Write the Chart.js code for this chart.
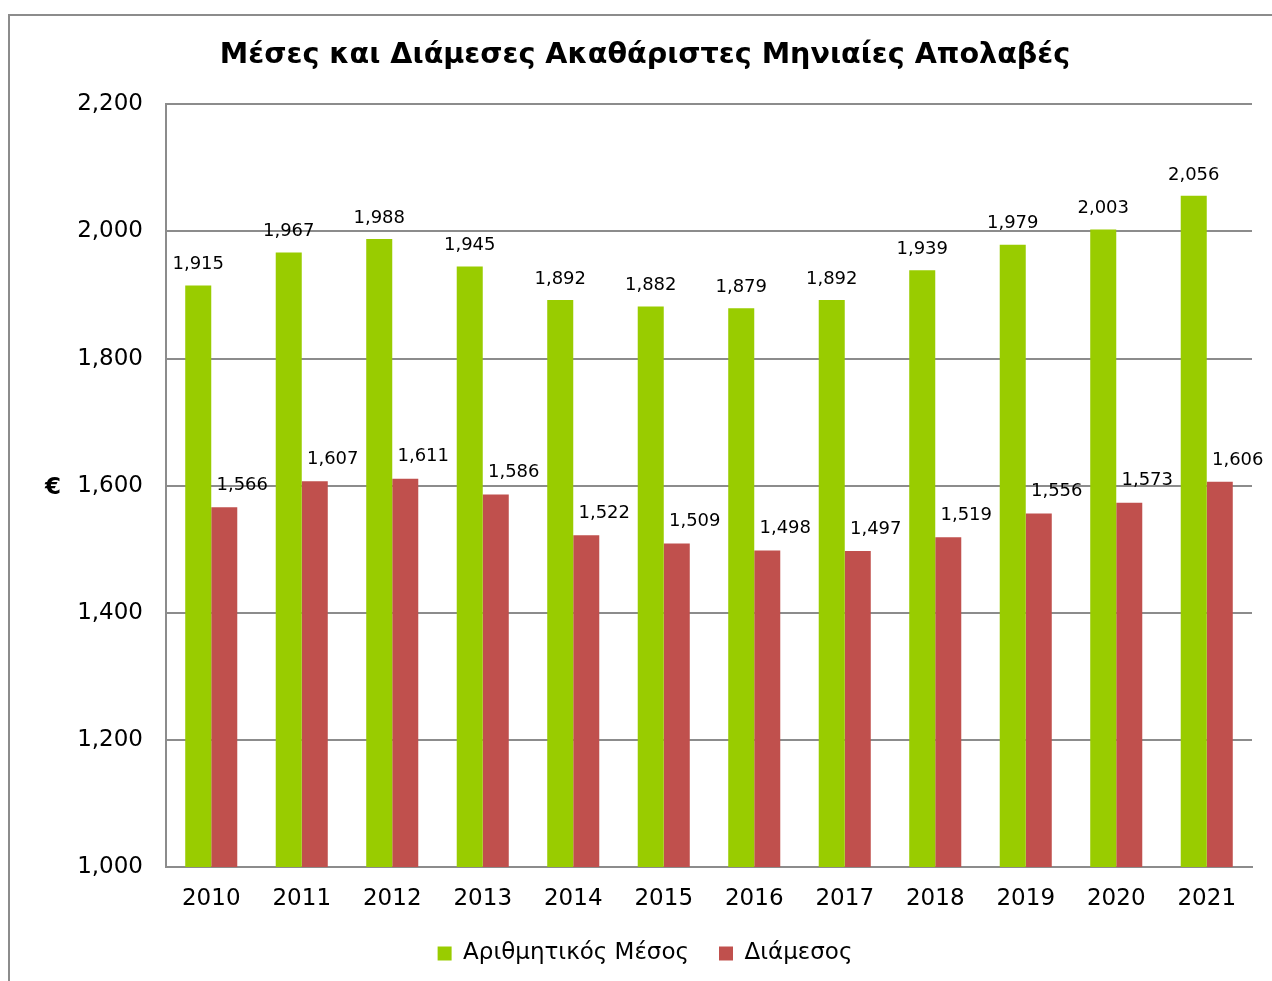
<!DOCTYPE html>
<html>
<head>
<meta charset="utf-8">
<script src="https://cdn.jsdelivr.net/npm/chart.js@4"></script>
<style>
  html, body { margin: 0; padding: 0; background: #fff; overflow: hidden; }
  #frame { position: absolute; left: 8px; top: 14px; width: 1274px; height: 1000px; border: 2px solid #8c8c8c; box-sizing: border-box; }
  #wrap { position: absolute; left: 0; top: 0; width: 1290px; height: 981px; }
</style>
</head>
<body>
<div id="frame"></div>
<div id="wrap"><canvas id="barChart" width="1290" height="981"></canvas></div>
<script>
// data
const years = ["2010", "2011", "2012", "2013", "2014", "2015", "2016", "2017", "2018", "2019", "2020", "2021"];
const meanPay = [1915, 1967, 1988, 1945, 1892, 1882, 1879, 1892, 1939, 1979, 2003, 2056];
const medianPay = [1566, 1607, 1611, 1586, 1522, 1509, 1498, 1497, 1519, 1556, 1573, 1606];
const yTicks = [1000, 1200, 1400, 1600, 1800, 2000, 2200];

const FONT = "'DejaVu Sans', Verdana, sans-serif";
const fmt = v => v.toLocaleString("en-US");

// value labels over the bars
const barLabels = {
    id: "barLabels",
    afterDatasetsDraw(chart) {
        const ctx = chart.ctx;
        ctx.save();
        ctx.font = "18px " + FONT;
        ctx.fillStyle = "#000";
        ctx.textAlign = "center";
        ctx.textBaseline = "middle";
        chart.data.datasets.forEach((ds, i) => {
            const meta = chart.getDatasetMeta(i);
            meta.data.forEach((bar, j) => {
                const dx = i === 0 ? 0 : 18;
                const dy = i === 0 ? 21 : 22;
                ctx.fillText(fmt(ds.data[j]), bar.x + dx, bar.y - dy);
            });
        });
        ctx.restore();
    }
};

// horizontal euro sign as the y axis title
const euroTitle = {
    id: "euroTitle",
    afterDraw(chart) {
        const ctx = chart.ctx;
        const area = chart.chartArea;
        ctx.save();
        ctx.font = "bold 23px " + FONT;
        ctx.fillStyle = "#000";
        ctx.textAlign = "center";
        ctx.textBaseline = "middle";
        ctx.fillText("€", 53, (area.top + area.bottom) / 2 + 2);
        ctx.restore();
    }
};

const ctx = document.getElementById("barChart").getContext("2d");
new Chart(ctx, {
    type: "bar",
    data: {
        labels: years,
        datasets: [{
            label: "Αριθμητικός Μέσος",
            data: meanPay,
            backgroundColor: "#99cc00",
            borderWidth: 0,
            categoryPercentage: 0.575,
            barPercentage: 1.0
        }, {
            label: "Διάμεσος",
            data: medianPay,
            backgroundColor: "#c0504d",
            borderWidth: 0,
            categoryPercentage: 0.575,
            barPercentage: 1.0
        }]
    },
    options: {
        responsive: false,
        animation: false,
        layout: { padding: { left: 38, right: 38, top: 0, bottom: 6 } },
        plugins: {
            title: {
                display: true,
                text: "Μέσες και Διάμεσες Ακαθάριστες Μηνιαίες Απολαβές",
                color: "#000",
                font: { family: FONT, size: 28.6, weight: "bold" },
                padding: { top: 38, bottom: 32 }
            },
            legend: {
                position: "bottom",
                labels: {
                    color: "#000",
                    font: { family: FONT, size: 23 },
                    boxWidth: 14,
                    boxHeight: 14,
                    padding: 30
                }
            },
            tooltip: { enabled: false }
        },
        scales: {
            x: {
                afterFit: axis => { axis.height = 45; },
                grid: { display: false, drawTicks: false },
                border: { display: true, color: "#8c8c8c", width: 2 },
                ticks: { color: "#000", font: { family: FONT, size: 23 }, padding: 18 }
            },
            y: {
                min: 1000,
                max: 2200,
                afterBuildTicks: axis => { axis.ticks = yTicks.map(v => ({ value: v })); },
                afterFit: axis => { axis.width = 128; },
                grid: { color: "#8c8c8c", lineWidth: 2, drawTicks: false },
                border: { display: true, color: "#8c8c8c", width: 2 },
                ticks: {
                    color: "#000",
                    font: { family: FONT, size: 23 },
                    padding: 23,
                    callback: v => fmt(v)
                }
            }
        }
    },
    plugins: [barLabels, euroTitle]
});
</script>
</body>
</html>
